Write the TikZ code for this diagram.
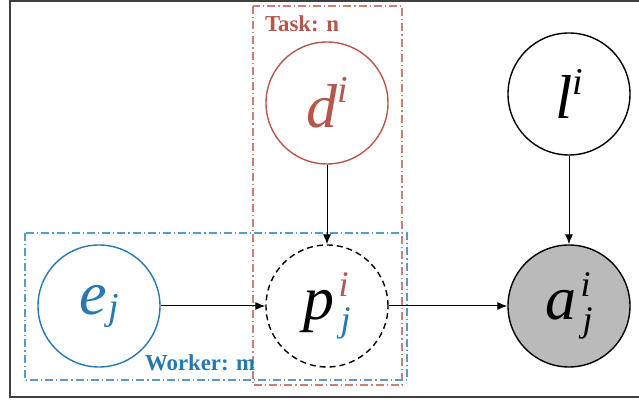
\documentclass[tikz,border=0pt]{standalone}
\usepackage{amsmath}
\usepackage{fontspec}
\setmainfont{Liberation Serif}
\usetikzlibrary{arrows.meta}
\definecolor{taskred}{RGB}{181,87,75}
\definecolor{workerblue}{RGB}{38,120,178}
% base letter with a raised superscript and a subscript stacked under it
\newcommand{\varsupsub}[3]{\textit{#1}\hspace{0.07em}%
  \rlap{\raisebox{0.36em}{\fontsize{18}{18}\selectfont\textit{#2}}}%
  \raisebox{-0.2em}{\fontsize{18}{18}\selectfont\hspace{0.06em}\textit{#3}}}
\newcommand{\varsup}[2]{\textit{#1}\raisebox{0.4em}{\fontsize{19}{19}\selectfont\textit{#2}}}
\newcommand{\varsub}[2]{\textit{#1}\raisebox{-0.08em}{\fontsize{19}{19}\selectfont\hspace{0.03em}\textit{#2}}}
\tikzset{
  var/.style={circle, draw, line width=0.7pt, minimum size=61pt, inner sep=0pt,
    font=\fontsize{31}{31}\selectfont},
  plate/.style={line width=0.7pt, dash pattern=on 4pt off 1.5pt on 0.6pt off 1.5pt},
  platelabel/.style={anchor=base west, font=\bfseries\fontsize{11.4}{11.4}\selectfont},
  edge/.style={-{Latex[length=5pt,width=4pt]}, line width=0.5pt}
}
\begin{document}
\begin{tikzpicture}[x=0.5pt,y=-0.5pt]
    \useasboundingbox (0,0) rectangle (639,405);
    \draw[line width=1pt, black!75] (10,1) rectangle (660,397);
    % plates
    \draw[plate, taskred!75] (253,6) rectangle (402,385);
    \draw[plate, workerblue!75] (25,233) rectangle (407,380);
    \node[platelabel, text=taskred] (tasklbl) at (258,32) {Task: n};
    \node[platelabel, text=workerblue] (workerlbl) at (138,371) {Worker: m};
    % variables
    \node[var, draw=taskred, text=taskred] (d) at (327,103) {\varsup{d}{i}};
    \node[var] (l) at (569,94) {\varsup{l}{i}};
    \node[var, draw=workerblue, text=workerblue] (e) at (99,306) {\varsub{e}{j}};
    \node[var, dash pattern=on 3pt off 2pt] (p) at (327,306)
        {\varsupsub{p}{\textcolor{taskred}{i}}{\textcolor{workerblue}{j}}};
    \node[var, fill=black!27] (a) at (569,306) {\varsupsub{a}{i}{j}};
    % edges
    \draw[edge] (e) -- (p);
    \draw[edge] (p) -- (a);
    \draw[edge] (d) -- (p);
    \draw[edge] (l) -- (a);
\end{tikzpicture}
\end{document}
